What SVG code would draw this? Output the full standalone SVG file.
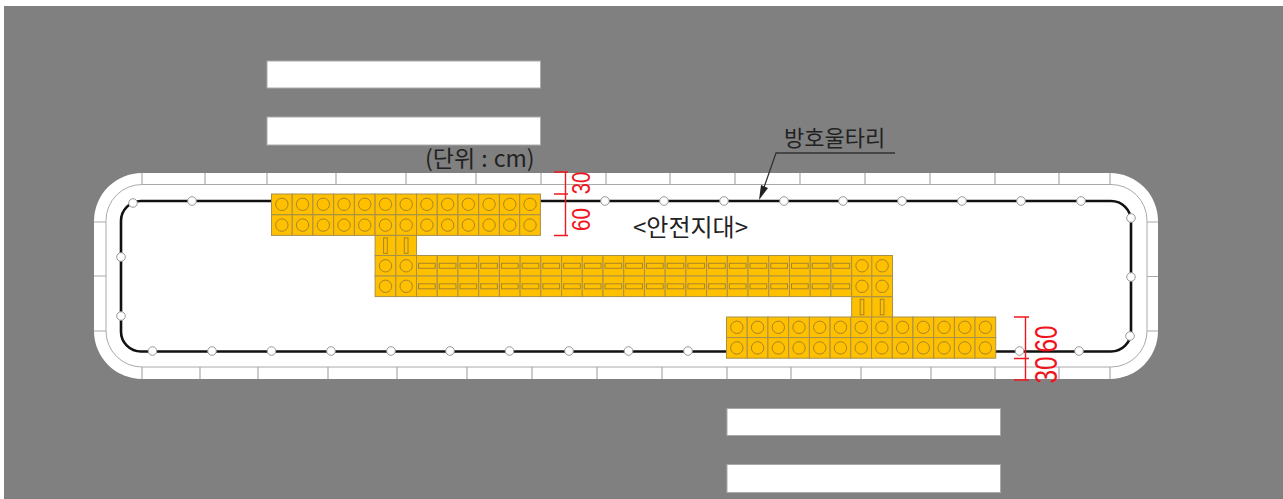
<svg xmlns="http://www.w3.org/2000/svg" width="1283" height="499" viewBox="0 0 1283 499">
<style>
.bar{fill:#fff;stroke:#aaa;stroke-width:1}
.tick{stroke:#aaa;stroke-width:1.2;fill:none}
.cell{fill:#ffc000;stroke:#a8904a;stroke-width:1}
.gl{fill:none;stroke:#a8842a;stroke-width:1}
.post{fill:#fff;stroke:#999;stroke-width:1}
.dim{stroke:#f01820;stroke-width:1.4;fill:none}
.rt{fill:#f0141c;font-family:"Liberation Sans",sans-serif;text-anchor:middle}
.lb{fill:#222;font-family:"Noto Sans CJK KR","Noto Sans",sans-serif}
</style>
<defs>
<g id="c"><rect class="cell" width="20.72" height="20.6"/><circle class="gl" cx="10.36" cy="10.3" r="6.2"/></g>
<g id="h"><rect class="cell" width="20.72" height="20.6"/><rect class="gl" x="2" y="7.8" width="16.7" height="5"/></g>
<g id="v"><rect class="cell" width="20.72" height="20.6"/><rect class="gl" x="8.5" y="2.500" width="3.7" height="15.500"/></g>
</defs>
<rect x="4" y="6" width="1279" height="493" fill="#808080"/>
<g id="crossings"><rect class="bar" x="267" y="61" width="273.5" height="27"/><rect class="bar" x="267" y="117" width="273.5" height="28"/><rect class="bar" x="727" y="408.500" width="273.500" height="27"/><rect class="bar" x="727" y="464.500" width="273.500" height="28"/></g>
<g id="island">
<rect x="94" y="173" width="1064" height="206" rx="48" fill="#fff"/>
<rect x="106" y="184.500" width="1041" height="182.500" rx="36" fill="none" stroke="#aaa"/>
<path class="tick" d="M142 173V184.500M205 173V184.500M267 173V184.500M336 173V184.500M406 173V184.500M476 173V184.500M541 173V184.500M606 173V184.500M670 173V184.500M735 173V184.500M800 173V184.500M865 173V184.500M930 173V184.500M995 173V184.500M1059 173V184.500M1110 173V184.500M142 367V379M200 367V379M258 367V379M328 367V379M397 367V379M467 367V379M532 367V379M597 367V379M662 367V379M727 367V379M791 367V379M861 367V379M931 367V379M995 367V379M1059 367V379M1110 367V379M94 222H106M94 276H106M94 331H106M1147 222H1158M1147 276.500H1158M1147 331H1158"/>
</g>
<g id="connectors">
<rect x="121" y="201" width="1010" height="150.500" rx="20" fill="none" stroke="#111" stroke-width="2.600"/>
<path d="M895 153H776L761 196" fill="none" stroke="#333" stroke-width="1.300"/>
<path d="M759 200L761 185L768 188Z" fill="#222"/>
</g>
<g id="posts">
<circle class="post" cx="133" cy="203" r="4.300"/><circle class="post" cx="192" cy="201" r="4.300"/><circle class="post" cx="605" cy="201" r="4.300"/><circle class="post" cx="664" cy="201" r="4.300"/><circle class="post" cx="724" cy="201" r="4.300"/><circle class="post" cx="784" cy="201" r="4.300"/><circle class="post" cx="843" cy="201" r="4.300"/><circle class="post" cx="902" cy="201" r="4.300"/><circle class="post" cx="962" cy="201" r="4.300"/><circle class="post" cx="1021" cy="201" r="4.300"/><circle class="post" cx="1081" cy="201" r="4.300"/><circle class="post" cx="1131" cy="218" r="4.300"/><circle class="post" cx="1131" cy="277" r="4.300"/><circle class="post" cx="1130" cy="336" r="4.300"/><circle class="post" cx="121" cy="257" r="4.300"/><circle class="post" cx="121" cy="316" r="4.300"/><circle class="post" cx="152.500" cy="351" r="4.300"/><circle class="post" cx="212" cy="351" r="4.300"/><circle class="post" cx="271.500" cy="351" r="4.300"/><circle class="post" cx="331" cy="351" r="4.300"/><circle class="post" cx="391" cy="351" r="4.300"/><circle class="post" cx="450" cy="351" r="4.300"/><circle class="post" cx="509.500" cy="351" r="4.300"/><circle class="post" cx="569" cy="351" r="4.300"/><circle class="post" cx="628.500" cy="351" r="4.300"/><circle class="post" cx="688" cy="351" r="4.300"/><circle class="post" cx="1019.500" cy="351" r="4.300"/><circle class="post" cx="1079" cy="351" r="4.300"/>
</g>
<g id="drums-top">
<use href="#c" x="271.500" y="194"/><use href="#c" x="292.220" y="194"/><use href="#c" x="312.940" y="194"/><use href="#c" x="333.660" y="194"/><use href="#c" x="354.380" y="194"/><use href="#c" x="375.100" y="194"/><use href="#c" x="395.820" y="194"/><use href="#c" x="416.540" y="194"/><use href="#c" x="437.260" y="194"/><use href="#c" x="457.980" y="194"/><use href="#c" x="478.700" y="194"/><use href="#c" x="499.420" y="194"/><use href="#c" x="519.700" y="194"/>
<use href="#c" x="271.500" y="214.800"/><use href="#c" x="292.220" y="214.800"/><use href="#c" x="312.940" y="214.800"/><use href="#c" x="333.660" y="214.800"/><use href="#c" x="354.380" y="214.800"/><use href="#c" x="375.100" y="214.800"/><use href="#c" x="395.820" y="214.800"/><use href="#c" x="416.540" y="214.800"/><use href="#c" x="437.260" y="214.800"/><use href="#c" x="457.980" y="214.800"/><use href="#c" x="478.700" y="214.800"/><use href="#c" x="499.420" y="214.800"/><use href="#c" x="519.700" y="214.800"/>
</g>
<g id="drums-middle">
<use href="#v" x="375.100" y="235.400"/><use href="#v" x="395.820" y="235.400"/>
<use href="#c" x="375.100" y="255.500"/><use href="#c" x="395.820" y="255.500"/><use href="#c" x="375.100" y="276"/><use href="#c" x="395.820" y="276"/>
<use href="#h" x="416.540" y="255.500"/><use href="#h" x="437.260" y="255.500"/><use href="#h" x="457.980" y="255.500"/><use href="#h" x="478.700" y="255.500"/><use href="#h" x="499.420" y="255.500"/><use href="#h" x="520.140" y="255.500"/><use href="#h" x="540.860" y="255.500"/><use href="#h" x="561.580" y="255.500"/><use href="#h" x="582.300" y="255.500"/><use href="#h" x="603.020" y="255.500"/><use href="#h" x="623.740" y="255.500"/><use href="#h" x="644.460" y="255.500"/><use href="#h" x="665.180" y="255.500"/><use href="#h" x="685.900" y="255.500"/><use href="#h" x="706.620" y="255.500"/><use href="#h" x="727.340" y="255.500"/><use href="#h" x="748.060" y="255.500"/><use href="#h" x="768.780" y="255.500"/><use href="#h" x="789.500" y="255.500"/><use href="#h" x="810.220" y="255.500"/><use href="#h" x="830.940" y="255.500"/>
<use href="#h" x="416.540" y="276"/><use href="#h" x="437.260" y="276"/><use href="#h" x="457.980" y="276"/><use href="#h" x="478.700" y="276"/><use href="#h" x="499.420" y="276"/><use href="#h" x="520.140" y="276"/><use href="#h" x="540.860" y="276"/><use href="#h" x="561.580" y="276"/><use href="#h" x="582.300" y="276"/><use href="#h" x="603.020" y="276"/><use href="#h" x="623.740" y="276"/><use href="#h" x="644.460" y="276"/><use href="#h" x="665.180" y="276"/><use href="#h" x="685.900" y="276"/><use href="#h" x="706.620" y="276"/><use href="#h" x="727.340" y="276"/><use href="#h" x="748.060" y="276"/><use href="#h" x="768.780" y="276"/><use href="#h" x="789.500" y="276"/><use href="#h" x="810.220" y="276"/><use href="#h" x="830.940" y="276"/>
<use href="#c" x="851.660" y="255.500"/><use href="#c" x="871.800" y="255.500"/><use href="#c" x="851.660" y="276"/><use href="#c" x="871.800" y="276"/>
<use href="#v" x="851.660" y="296.800"/><use href="#v" x="871.800" y="296.800"/>
</g>
<g id="drums-bottom">
<use href="#c" x="726.500" y="317"/><use href="#c" x="747.220" y="317"/><use href="#c" x="767.940" y="317"/><use href="#c" x="788.660" y="317"/><use href="#c" x="809.380" y="317"/><use href="#c" x="830.100" y="317"/><use href="#c" x="850.820" y="317"/><use href="#c" x="871.540" y="317"/><use href="#c" x="892.260" y="317"/><use href="#c" x="912.980" y="317"/><use href="#c" x="933.700" y="317"/><use href="#c" x="954.420" y="317"/><use href="#c" x="975" y="317"/>
<use href="#c" x="726.500" y="337.600"/><use href="#c" x="747.220" y="337.600"/><use href="#c" x="767.940" y="337.600"/><use href="#c" x="788.660" y="337.600"/><use href="#c" x="809.380" y="337.600"/><use href="#c" x="830.100" y="337.600"/><use href="#c" x="850.820" y="337.600"/><use href="#c" x="871.540" y="337.600"/><use href="#c" x="892.260" y="337.600"/><use href="#c" x="912.980" y="337.600"/><use href="#c" x="933.700" y="337.600"/><use href="#c" x="954.420" y="337.600"/><use href="#c" x="975" y="337.600"/>
</g>
<g id="dimensions">
<path class="dim" d="M565.500 172V235.500M554 172H568M554 194H568M554 235.500H568"/>
<path class="dim" d="M1025.500 317V380M1014 317H1029M1014 358.500H1029M1014 380H1029"/>
<text class="rt" font-size="25" textLength="22.500" lengthAdjust="spacingAndGlyphs" transform="translate(590 183) rotate(-90)">30</text>
<text class="rt" font-size="25" textLength="23" lengthAdjust="spacingAndGlyphs" transform="translate(590 219.500) rotate(-90)">60</text>
<text class="rt" font-size="31" textLength="27" lengthAdjust="spacingAndGlyphs" transform="translate(1057 339) rotate(-90)">60</text>
<text class="rt" font-size="31" textLength="27" lengthAdjust="spacingAndGlyphs" transform="translate(1057 370) rotate(-90)">30</text>
</g>
<g id="labels">
<text class="lb" x="425" y="167" font-size="23" word-spacing="1">(단위 : cm)</text>
<text class="lb" x="633" y="235.500" font-size="24">&lt;안전지대&gt;</text>
<text class="lb" x="784" y="146" font-size="22">방호울타리</text>
</g>
</svg>
